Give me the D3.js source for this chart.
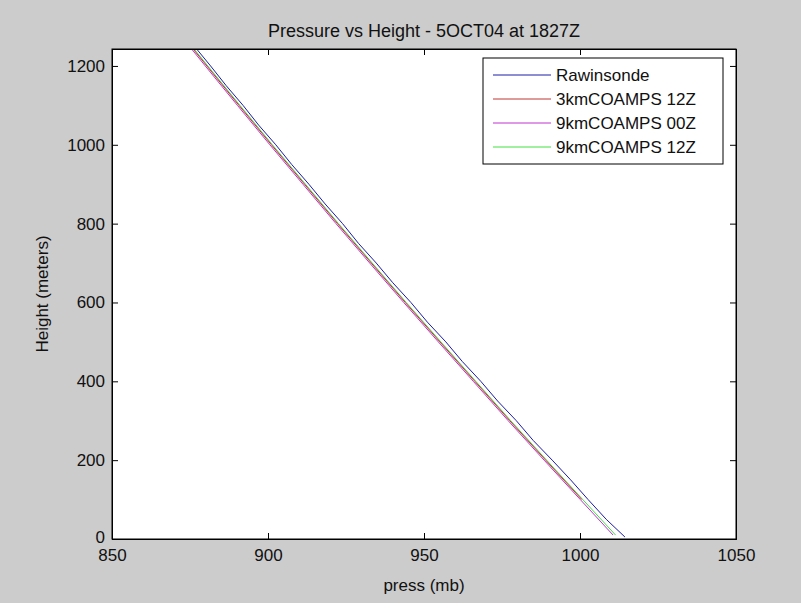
<!DOCTYPE html>
<html>
<head>
<meta charset="utf-8">
<script src="https://cdn.jsdelivr.net/npm/d3@7"></script>
<style>
  body { margin: 0; background: #cccccc; }
  svg { display: block; font-family: "Liberation Sans", Arial, sans-serif; }
</style>
</head>
<body>
<div id="chart"></div>
<script>
// heights (m) and pressures (mb)
var rawHeight = [5, 50, 100, 150, 200, 250, 300, 350, 400, 450, 500, 550, 600, 650, 700, 750, 800, 850, 900, 950, 1000, 1050, 1100, 1150, 1200, 1250, 1300];
var rawPress  = [1014.4, 1008.4, 1002.6, 997.0, 991.1, 985.0, 979.6, 973.6, 968.2, 962.3, 957.0, 951.1, 945.8, 940.0, 934.7, 929.0, 923.9, 918.3, 913.1, 907.6, 902.5, 897.0, 892.0, 886.6, 881.6, 876.4, 871.3];

var modelHeight = [10, 100, 200, 300, 400, 500, 600, 700, 800, 900, 1000, 1100, 1200, 1300];
var c3km12Press = [1011.1, 1000.6, 989.0, 977.5, 966.3, 955.1, 944.0, 933.1, 922.3, 911.7, 901.1, 890.7, 880.4, 870.2];
var c9km00Press = [1010.6, 1000.1, 988.5, 977.0, 965.8, 954.6, 943.5, 932.6, 921.8, 911.2, 900.6, 890.2, 879.9, 869.7];
var c9km12Press = [1011.4, 1000.9, 989.3, 977.8, 966.6, 955.4, 944.3, 933.4, 922.6, 912.0, 901.4, 891.0, 880.7, 870.5];
var c3kmStart = 1; // red model line starts above the ground level

var seriesNames = ["Rawinsonde", "3kmCOAMPS 12Z", "9kmCOAMPS 00Z", "9kmCOAMPS 12Z"];
var seriesColors = ["#1c1ca8", "#c03434", "#c030d0", "#3ee03e"];

var xTicks = [850, 900, 950, 1000, 1050];
var yTicks = [0, 200, 400, 600, 800, 1000, 1200];

var width = 801,
    height = 603;

var margin = {top: 49, right: 65, bottom: 64, left: 112};
var w = width - margin.left - margin.right,
    h = height - margin.top - margin.bottom;

var svg = d3.select("#chart")
  .append("svg")
    .attr("width", width)
    .attr("height", height);

svg.append("rect")
  .attr("width", width)
  .attr("height", height)
  .attr("fill", "#cccccc");

var x = d3.scaleLinear().domain([850, 1050]).range([0, w]);
var y = d3.scaleLinear().domain([0, 1243]).range([h, 0]);

var g = svg.append("g")
  .attr("transform", "translate(" + margin.left + "," + margin.top + ")");

g.append("rect")
  .attr("width", w)
  .attr("height", h)
  .attr("fill", "white");

g.append("clipPath").attr("id", "clip")
  .append("rect").attr("width", w).attr("height", h);

// build the series from the arrays
var series = [
  rawHeight.map(function(d, i) { return [rawPress[i], d]; }),
  modelHeight.slice(c3kmStart).map(function(d, i) { return [c3km12Press[i + c3kmStart], d]; }),
  modelHeight.map(function(d, i) { return [c9km00Press[i], d]; }),
  modelHeight.map(function(d, i) { return [c9km12Press[i], d]; })
];

var line = d3.line()
  .x(function(d) { return x(d[0]); })
  .y(function(d) { return y(d[1]); });

// draw order: models first, sonde on top
[2, 3, 1, 0].forEach(function(k) {
  g.append("path")
    .datum(series[k])
    .attr("clip-path", "url(#clip)")
    .attr("fill", "none")
    .attr("stroke", seriesColors[k])
    .attr("stroke-width", 1)
    .attr("d", line);
});

// axes with inward ticks, mirrored on top and right (matlab box)
var tickLen = 6;
var fmt = d3.format("d");
var xAxis = d3.axisBottom(x).tickValues(xTicks).tickSize(-tickLen).tickPadding(10).tickFormat(fmt);
var yAxis = d3.axisLeft(y).tickValues(yTicks).tickSize(-tickLen).tickPadding(7).tickFormat(fmt);

g.append("g").attr("transform", "translate(0," + h + ")").call(xAxis);
g.append("g").call(yAxis);
g.append("g").call(d3.axisTop(x).tickValues(xTicks).tickSize(-tickLen).tickFormat(""));
g.append("g").attr("transform", "translate(" + w + ",0)")
  .call(d3.axisRight(y).tickValues(yTicks).tickSize(-tickLen).tickFormat(""));

g.selectAll(".domain").attr("stroke", "#000");
g.selectAll(".tick line").attr("stroke", "#000");
g.selectAll(".tick text")
  .attr("fill", "#111")
  .style("font-size", "17px");

// the "0" label sits just above the 850 label, as in the original
g.selectAll(".tick text").filter(function(d) { return d === 0; })
  .attr("dy", "0.2em");

g.append("rect")
  .attr("width", w)
  .attr("height", h)
  .attr("fill", "none")
  .attr("stroke", "#000");

// title and labels
svg.append("text")
  .attr("x", margin.left + w / 2)
  .attr("y", 37)
  .attr("text-anchor", "middle")
  .style("font-size", "18px")
  .attr("fill", "#111")
  .text("Pressure vs Height - 5OCT04 at 1827Z");

svg.append("text")
  .attr("x", margin.left + w / 2)
  .attr("y", 591)
  .attr("text-anchor", "middle")
  .style("font-size", "17px")
  .attr("fill", "#111")
  .text("press (mb)");

svg.append("text")
  .attr("transform", "translate(48," + (margin.top + h / 2) + ") rotate(-90)")
  .attr("text-anchor", "middle")
  .style("font-size", "17px")
  .attr("fill", "#111")
  .text("Height (meters)");

// legend
var lg = g.append("g").attr("transform", "translate(" + (w - 253) + ",9)");
lg.append("rect")
  .attr("width", 240)
  .attr("height", 106)
  .attr("fill", "white")
  .attr("stroke", "#000");

seriesNames.forEach(function(name, i) {
  var yy = 17 + i * 24;
  lg.append("line")
    .attr("x1", 10).attr("x2", 68)
    .attr("y1", yy).attr("y2", yy)
    .attr("stroke", seriesColors[i]);
  lg.append("text")
    .attr("x", 73)
    .attr("y", yy + 6)
    .style("font-size", "17px")
    .attr("fill", "#111")
    .text(name);
});
</script>
</body>
</html>
